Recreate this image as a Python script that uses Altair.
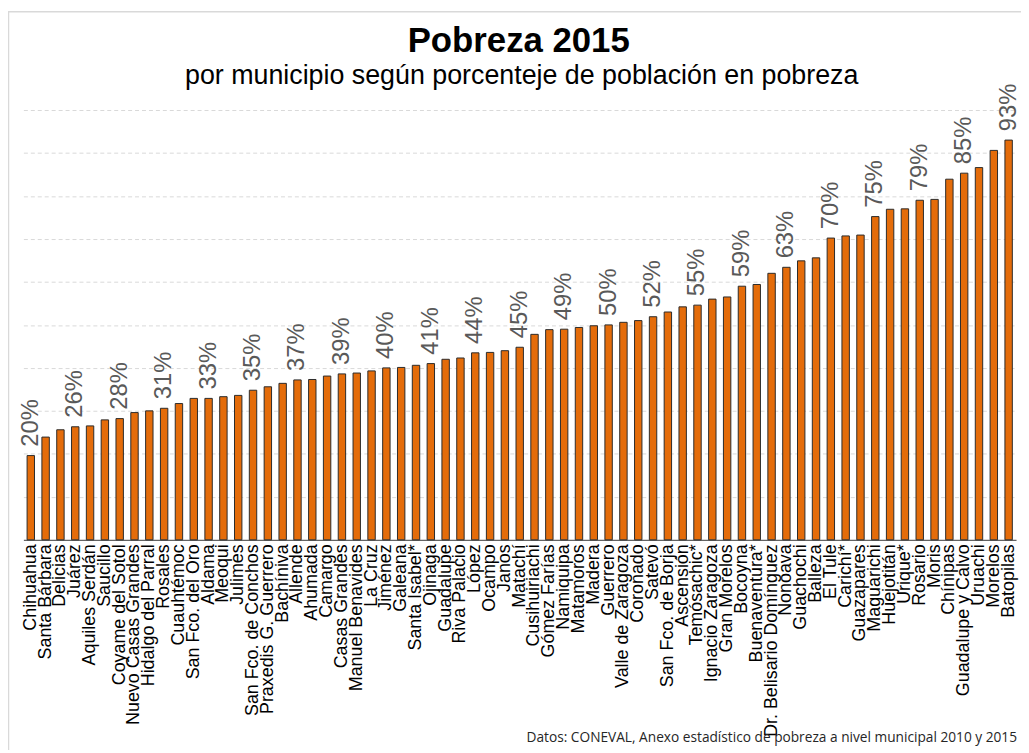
import altair as alt
import pandas as pd

# ---- data ----
municipios = [
    "Chihuahua", "Santa Bárbara", "Delicias", "Juárez", "Aquiles Serdán",
    "Saucillo", "Coyame del Sotol", "Nuevo Casas Grandes", "Hidalgo del Parral",
    "Rosales", "Cuauhtémoc", "San Fco. del Oro", "Aldama", "Meoqui", "Julimes",
    "San Fco. de Conchos", "Praxedis G. Guerrero", "Bachíniva", "Allende",
    "Ahumada", "Camargo", "Casas Grandes", "Manuel Benavides", "La Cruz",
    "Jiménez", "Galeana", "Santa Isabel*", "Ojinaga", "Guadalupe",
    "Riva Palacio", "López", "Ocampo", "Janos", "Matachí", "Cusihuiriachi",
    "Gómez Farías", "Namiquipa", "Matamoros", "Madera", "Guerrero",
    "Valle de Zaragoza", "Coronado", "Satevó", "San Fco. de Borja",
    "Ascensión", "Temósachic*", "Ignacio Zaragoza", "Gran Morelos", "Bocoyna",
    "Buenaventura*", "Dr. Belisario Domínguez", "Nonoava", "Guachochi",
    "Balleza", "El Tule", "Carichí*", "Guazapares", "Maguarichi", "Huejotitán",
    "Urique*", "Rosario", "Moris", "Chínipas", "Guadalupe y Calvo", "Uruachi",
    "Morelos", "Batopilas",
]
pobreza = [
    19.6, 23.9, 25.6, 26.3, 26.5,
    27.9, 28.2, 29.6, 30.0,
    30.6, 31.7, 32.9, 32.9, 33.3, 33.6,
    34.8, 35.6, 36.4, 37.2,
    37.3, 38.1, 38.6, 38.8, 39.3,
    40.0, 40.1, 40.6, 41.0, 42.0,
    42.3, 43.5, 43.6, 44.0, 44.8, 47.8,
    48.9, 49.0, 49.4, 49.8, 50.0,
    50.6, 51.0, 51.9, 53.0,
    54.2, 54.6, 56.0, 56.5, 59.0,
    59.4, 62.0, 63.4, 64.9,
    65.6, 70.2, 70.7, 70.9, 75.2, 76.9,
    77.0, 79.0, 79.2, 83.9, 85.3, 86.6,
    90.6, 93.0,
]
grid_values = [10, 20, 30, 40, 50, 60, 70, 80, 90, 100]
titulo = "Pobreza 2015"
subtitulo = "por municipio según porcenteje de población en pobreza"
fuente = "Datos: CONEVAL, Anexo estadístico de pobreza a nivel municipal 2010 y 2015"

df = pd.DataFrame({"municipio": municipios, "pobreza": pobreza})
df["idx"] = range(len(df))

W, H = 1000, 433

x_enc = alt.X(
    "municipio:N",
    sort=None,
    scale=alt.Scale(paddingInner=0.5, paddingOuter=0.25),
    axis=alt.Axis(
        title=None,
        labelAngle=-90,
        labelFont="Liberation Sans",
        labelFontSize=18,
        labelColor="#000000",
        labelPadding=4,
        labelOverlap=False,
        labelLimit=400,
        ticks=False,
        domain=True,
        domainColor="#3a3a3a",
        domainWidth=1,
        grid=False,
    ),
)
y_enc = alt.Y(
    "pobreza:Q",
    scale=alt.Scale(domain=[0, 100], nice=False, zero=True),
    axis=alt.Axis(
        title=None,
        labels=False,
        ticks=False,
        domain=False,
        grid=True,
        values=grid_values,
        gridColor="#d9d9d9",
        gridDash=[4, 3],
        gridWidth=1,
    ),
)

base = alt.Chart(df)

bars = base.mark_bar(
    color="#E46C0A", stroke="#2b2b2b", strokeWidth=1
).encode(x=x_enc, y=y_enc)

labels = base.transform_filter(
    "datum.idx % 3 == 0"
).transform_calculate(
    etiqueta="format(datum.pobreza, '.0f') + '%'"
).mark_text(
    angle=270, align="left", baseline="middle", dx=9,
    font="Liberation Sans", fontSize=24, color="#595959",
).encode(
    x=alt.X("municipio:N", sort=None),
    y=alt.Y("pobreza:Q"),
    text="etiqueta:N",
)

textos = pd.DataFrame({"t": [titulo, subtitulo, fuente]})

titulo_mk = alt.Chart(textos).transform_filter(
    alt.datum.t == titulo
).mark_text(
    align="center", baseline="alphabetic", font="Liberation Sans",
    fontSize=35, fontWeight="bold", color="#000000",
).encode(x=alt.value(W / 2 - 1), y=alt.value(-58), text="t:N")

subtitulo_mk = alt.Chart(textos).transform_filter(
    alt.datum.t == subtitulo
).mark_text(
    align="center", baseline="alphabetic", font="Liberation Sans",
    fontSize=27, color="#000000",
).encode(x=alt.value(W / 2 + 2), y=alt.value(-26), text="t:N")

nota = alt.Chart(textos).transform_filter(
    alt.datum.t == fuente
).mark_text(
    align="right", baseline="alphabetic", font="Open Sans", fontSize=13.8,
    color="#262626",
).encode(x=alt.value(W + 1), y=alt.value(H + 204), text="t:N")

marco = alt.Chart(pd.DataFrame({"a": [0]})).mark_rect(
    fill=None, stroke="#d9d9d9", strokeWidth=1.5,
).encode(
    x=alt.value(-15), x2=alt.value(W + 60),
    y=alt.value(-99), y2=alt.value(H + 400),
)

chart = alt.layer(
    marco, bars, labels, titulo_mk, subtitulo_mk, nota
).properties(
    width=W,
    height=H,
    autosize=alt.AutoSizeParams(type="none"),
    padding={"left": 15.5, "top": 100, "right": 5, "bottom": 209},
).configure_view(stroke=None)

chart.save("out.html", embed_options={"renderer": "svg", "actions": False})
